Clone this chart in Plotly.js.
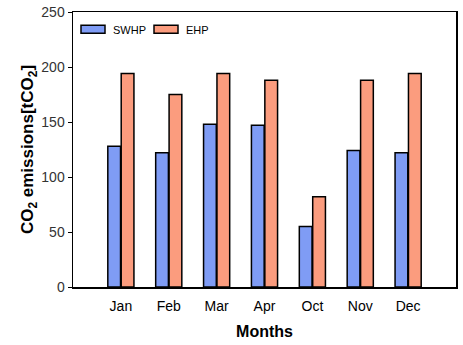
<!DOCTYPE html>
<html><head><meta charset="utf-8">
<script src="https://cdn.plot.ly/plotly-3.0.1.min.js"></script>
<style>body{margin:0;padding:0;background:#fff}#chart{width:463px;height:345px}</style>
</head><body><div id="chart"></div>
<script>
const months = ["Jan","Feb","Mar","Apr","Oct","Nov","Dec"];
const swhp = [128,122,148,147,55,124,122];
const ehp = [194,175,194,188,82,188,194];

const traces = [
  {type:"bar", name:"SWHP", x:months, y:swhp, marker:{color:"#7f9cf5", line:{color:"#000", width:1.5}}},
  {type:"bar", name:"EHP", x:months, y:ehp, marker:{color:"#fb9c7e", line:{color:"#000", width:1.5}}}
];
const layout = {
  width:463, height:345,
  margin:{l:73, r:7, t:12, b:58},
  paper_bgcolor:"#fff", plot_bgcolor:"#fff",
  font:{family:"Liberation Sans, Arial, sans-serif", color:"#000"},
  barmode:"group", bargap:0.44, bargroupgap:0.05,
  showlegend:true,
  legend:{orientation:"h", x:0.0, y:0.99, xanchor:"left", yanchor:"top", font:{size:11}, bgcolor:"rgba(0,0,0,0)", entrywidth:28, entrywidthmode:"pixels", traceorder:"normal"},
  xaxis:{type:"category", range:[-1,7], showline:true, mirror:true, linecolor:"#000", linewidth:1.5, ticks:"", ticklabelstandoff:6, tickfont:{size:14}, showgrid:false, zeroline:false,
    title:{text:"<b>Months</b>", font:{size:16}, standoff:12}},
  yaxis:{range:[0,250], dtick:50, showline:true, mirror:true, linecolor:"#000", linewidth:1.5, ticks:"outside", ticklen:4, tickcolor:"#000", tickfont:{size:14, color:"#333"}, showgrid:false, zeroline:false,
    title:{text:"<b>CO<sub>2</sub> emissions[tCO<sub>2</sub>]</b>", font:{size:17}, standoff:3}}
};
Plotly.newPlot("chart", traces, layout, {displayModeBar:false, staticPlot:true}).then(function(gd){
  gd.querySelectorAll(".legend .legendpoints path").forEach(function(p){
    p.setAttribute("d","M-12,-4H12V4H-12Z");
  });
});
</script></body></html>
